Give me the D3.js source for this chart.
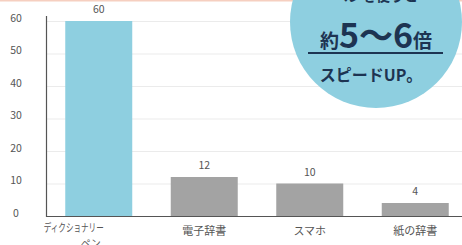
<!DOCTYPE html>
<html>
<head>
<meta charset="utf-8">
<script src="https://cdn.jsdelivr.net/npm/d3@7"></script>
<style>
body { margin: 0; background: #fff; }
svg { display: block; font-family: "Noto Sans CJK JP", "Noto Sans", sans-serif; }
</style>
</head>
<body>
<svg id="chart" width="462" height="245"></svg>
<script>
var WIDTH = 462;
var HEIGHT = 245;

// data
var categories = ["ディクショナリーペン", "電子辞書", "スマホ", "紙の辞書"];
var labelLines = [["ディクショナリー", "ペン"], ["電子辞書"], ["スマホ"], ["紙の辞書"]];
var values = [60, 12, 10, 4];
var yTicks = [0, 10, 20, 30, 40, 50, 60];
var barColors = ["#8ecfe0", "#a3a3a3", "#a3a3a3", "#a3a3a3"];

var svg = d3.select('#chart');

// thin salmon line at the very top
svg.append('line')
    .attr('x1', 0).attr('x2', WIDTH)
    .attr('y1', 0.5).attr('y2', 0.5)
    .attr('stroke', '#f6cfc0')
    .attr('stroke-width', 2);

var x = d3.scaleBand()
    .domain(categories)
    .range([46, 468])
    .paddingInner(0.365)
    .paddingOuter(0.1825);

var y = d3.scaleLinear()
    .domain([0, 60])
    .range([216, 21]);

// grid lines
svg.append('g')
    .selectAll('line')
    .data(yTicks.filter(d => d > 0))
    .enter().append('line')
    .attr('x1', 46).attr('x2', WIDTH)
    .attr('y1', d => y(d) + 0.5).attr('y2', d => y(d) + 0.5)
    .attr('stroke', '#ebebeb')
    .attr('stroke-width', 1);

// y tick labels
svg.append('g')
    .selectAll('text')
    .data(yTicks)
    .enter().append('text')
    .attr('x', 16)
    .attr('y', d => y(d) - 2)
    .attr('text-anchor', 'middle')
    .attr('dominant-baseline', 'middle')
    .attr('font-size', 10.5)
    .attr('fill', '#555')
    .text(d => d);

// bars
svg.append('g')
    .selectAll('rect')
    .data(values)
    .enter().append('rect')
    .attr('x', (d, i) => x(categories[i]))
    .attr('y', d => y(d))
    .attr('width', x.bandwidth())
    .attr('height', d => y(0) - y(d))
    .attr('fill', (d, i) => barColors[i]);

// value labels
svg.append('g')
    .selectAll('text')
    .data(values)
    .enter().append('text')
    .attr('x', (d, i) => x(categories[i]) + x.bandwidth() / 2)
    .attr('y', d => y(d) - 8)
    .attr('text-anchor', 'middle')
    .attr('font-size', 10.5)
    .attr('fill', '#555')
    .text(d => d);

// axes lines
svg.append('line')
    .attr('x1', 46.5).attr('x2', 46.5)
    .attr('y1', 16).attr('y2', y(0) + 1)
    .attr('stroke', '#555').attr('stroke-width', 1.2);
svg.append('line')
    .attr('x1', 46).attr('x2', WIDTH)
    .attr('y1', y(0) + 0.5).attr('y2', y(0) + 0.5)
    .attr('stroke', '#555').attr('stroke-width', 1.2);

// category labels
var xl = svg.append('g')
    .selectAll('text')
    .data(categories)
    .enter().append('text')
    .attr('text-anchor', 'middle')
    .attr('font-size', 11)
    .attr('fill', '#555');
xl.each(function(d, i) {
    var t = d3.select(this);
    var cx = x(d) + x.bandwidth() / 2;
    if (labelLines[i].length > 1) {
        t.append('tspan')
            .attr('x', cx - 25).attr('y', 232)
            .attr('font-size', 11)
            .attr('textLength', 60)
            .attr('lengthAdjust', 'spacingAndGlyphs')
            .text(labelLines[i][0]);
        t.append('tspan')
            .attr('x', cx - 8).attr('y', 247)
            .attr('font-size', 10)
            .text(labelLines[i][1]);
    } else {
        t.append('tspan')
            .attr('x', cx).attr('y', 235)
            .text(labelLines[i][0]);
    }
});

// callout circle
var callout = svg.append('g');
callout.append('circle')
    .attr('cx', 376).attr('cy', 22).attr('r', 86)
    .attr('fill', '#8ecfe0');
callout.append('text')
    .attr('x', 376).attr('y', 1)
    .attr('text-anchor', 'middle')
    .attr('font-size', 14)
    .attr('font-weight', 'bold')
    .attr('fill', '#1d3452')
    .text('ペンを使うと');
var big = callout.append('text')
    .attr('x', 376).attr('y', 48)
    .attr('text-anchor', 'middle')
    .attr('font-weight', 'bold')
    .attr('fill', '#1d3452');
big.append('tspan').attr('font-size', 19).text('約');
big.append('tspan').attr('font-size', 34).text('5〜6');
big.append('tspan').attr('font-size', 19).text('倍');
callout.append('line')
    .attr('x1', 308).attr('x2', 443)
    .attr('y1', 53).attr('y2', 53)
    .attr('stroke', '#1d3452').attr('stroke-width', 2);
callout.append('text')
    .attr('x', 371).attr('y', 81)
    .attr('text-anchor', 'middle')
    .attr('font-size', 16)
    .attr('font-weight', 'bold')
    .attr('fill', '#1d3452')
    .text('スピードUP。');
</script>
</body>
</html>
